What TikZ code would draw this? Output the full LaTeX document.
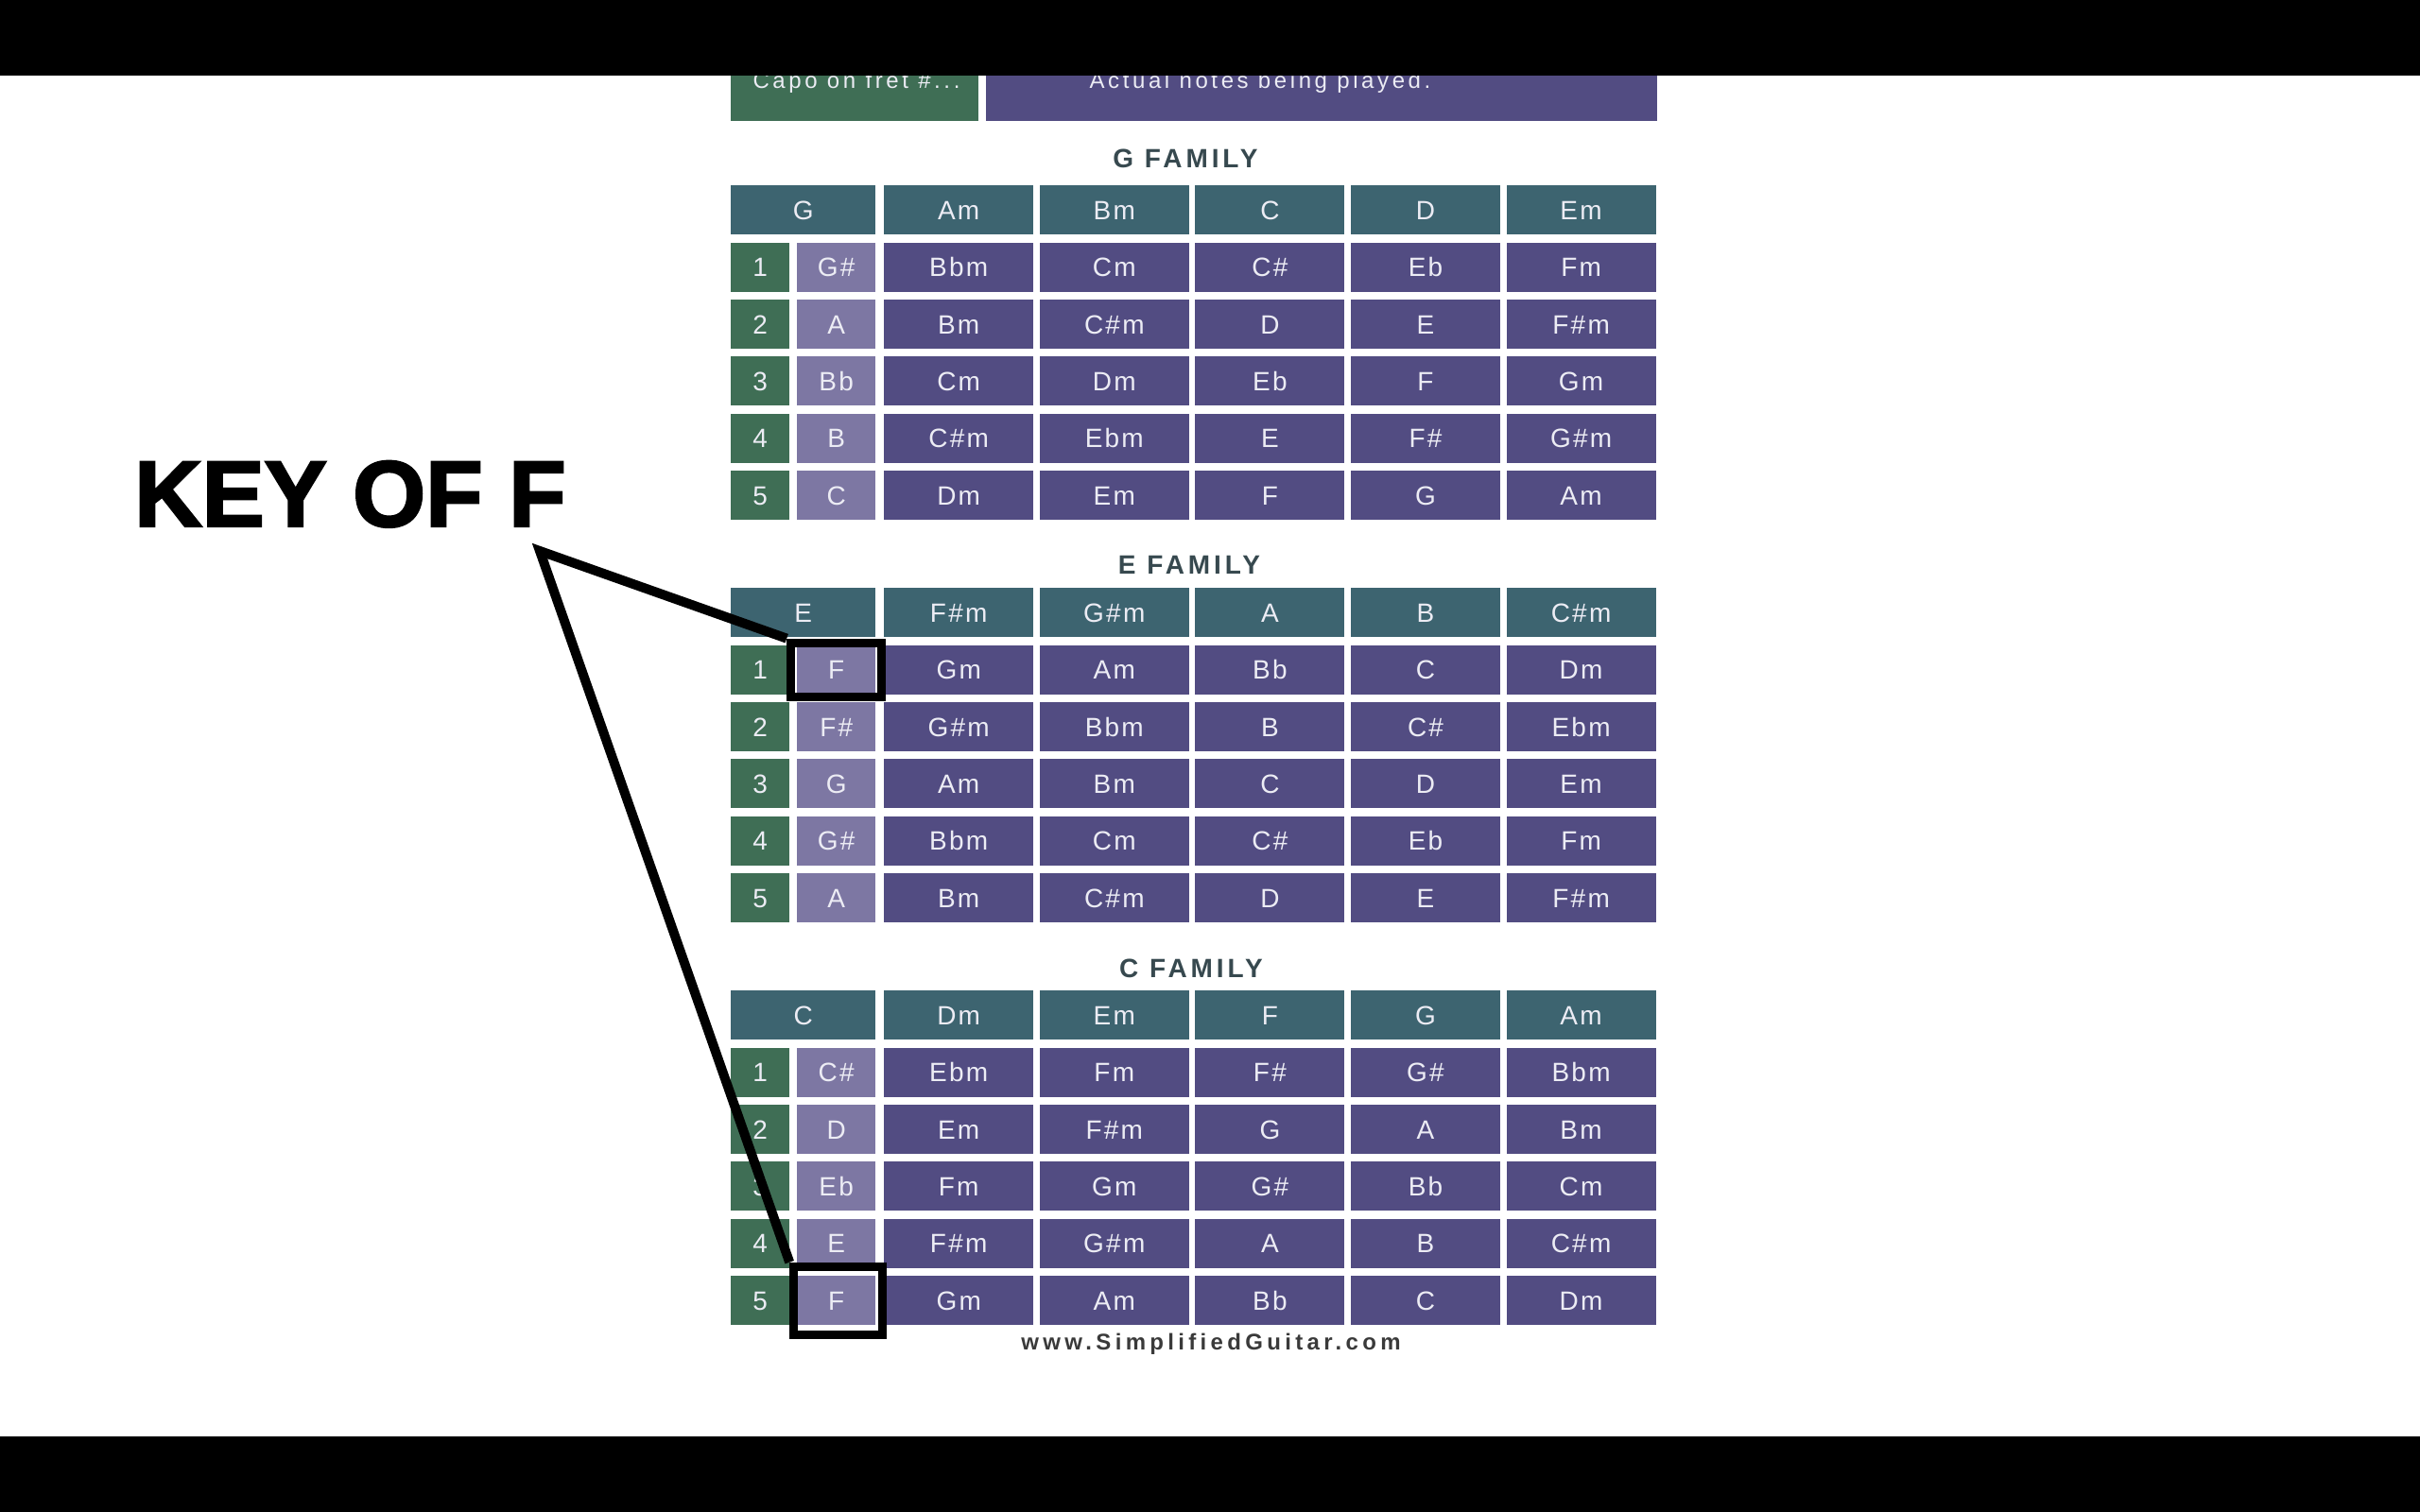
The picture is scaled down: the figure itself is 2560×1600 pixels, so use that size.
\documentclass[tikz,border=0pt]{standalone}
\usepackage{fontspec}
\setmainfont{Liberation Sans}
\usepackage{xcolor}
\usepackage{tikz}
\usetikzlibrary{positioning}

\definecolor{headteal}{HTML}{3D6470}
\definecolor{fretgreen}{HTML}{3F6E55}
\definecolor{notelilac}{HTML}{7D77A3}
\definecolor{chordpurple}{HTML}{524C82}
\definecolor{titlegray}{HTML}{37494F}
\definecolor{celltext}{HTML}{ECECF4}
\definecolor{urlgray}{HTML}{3A3A3A}

\begin{document}
\begin{tikzpicture}[x=1pt, y=-1pt,
  cell/.style={anchor=north west, inner sep=0pt, minimum height=52pt, text=celltext,
    text height=20pt, text depth=0pt,
    font=\fontsize{28}{28}\selectfont\addfontfeature{LetterSpace=8}},
  head/.style={cell, fill=headteal, minimum width=158pt},
  fret/.style={cell, fill=fretgreen, minimum width=62pt},
  note/.style={cell, fill=notelilac, minimum width=83pt},
  chord/.style={cell, fill=chordpurple, minimum width=158pt},
  family/.style={text=titlegray, inner sep=0pt,
    font=\bfseries\fontsize{28}{28}\selectfont\addfontfeature{LetterSpace=14}},
  keybox/.style={draw=black, line width=9pt, inner sep=0pt},
  pointer/.style={draw=black, line width=10pt, line join=miter}]
  \useasboundingbox (0,0) rectangle (2560,1600);
  \fill[white] (0,0) rectangle (2560,1600);

  % legend strip (cut by the top band)
  \fill[fretgreen] (773,60) rectangle (1035,128);
  \fill[chordpurple] (1043,60) rectangle (1753,128);
  \node[anchor=base, text=celltext, font=\fontsize{24}{24}\selectfont\addfontfeature{LetterSpace=15}]
    (capo) at (906,94) {Capo on fret \#...};
  \node[anchor=base, text=celltext, font=\fontsize{24}{24}\selectfont\addfontfeature{LetterSpace=15}]
    (actual) at (1333,94) {Actual notes being played.};

  % black bands
  \fill[black] (0,0) rectangle (2560,80);
  \fill[black] (0,1520) rectangle (2560,1600);

  % G family
  \begin{scope}[shift={(0,196)}]
  \node[family] (g-title) at (1254,-28) {G FAMILY};
  \node[head, minimum width=153pt] (g-h0) at (773,0) {G};
  \foreach \ch [count=\k] in {Am,Bm,C,D,Em}
    \node[head] (g-h\k) at ({935+164.6*(\k-1)},0) {\ch};
  \foreach \fr/\nt/\cA/\cB/\cC/\cD/\cE in {1/G\#/Bbm/Cm/C\#/Eb/Fm, 2/A/Bm/C\#m/D/E/F\#m,
      3/Bb/Cm/Dm/Eb/F/Gm, 4/B/C\#m/Ebm/E/F\#/G\#m, 5/C/Dm/Em/F/G/Am}{
    \node[fret] (g-f\fr) at (773,{60.4*\fr}) {\fr};
    \node[note] (g-n\fr) at (843,{60.4*\fr}) {\nt};
    \foreach \ch [count=\k] in {\cA,\cB,\cC,\cD,\cE}
      \node[chord] (g-c\fr-\k) at ({935+164.6*(\k-1)},{60.4*\fr}) {\ch};
  }
  \end{scope}

  % E family
  \begin{scope}[shift={(0,622)}]
  \node[family] (e-title) at (1258,-24) {E FAMILY};
  \node[head, minimum width=153pt] (e-h0) at (773,0) {E};
  \foreach \ch [count=\k] in {F\#m,G\#m,A,B,C\#m}
    \node[head] (e-h\k) at ({935+164.6*(\k-1)},0) {\ch};
  \foreach \fr/\nt/\cA/\cB/\cC/\cD/\cE in {1/F/Gm/Am/Bb/C/Dm, 2/F\#/G\#m/Bbm/B/C\#/Ebm,
      3/G/Am/Bm/C/D/Em, 4/G\#/Bbm/Cm/C\#/Eb/Fm, 5/A/Bm/C\#m/D/E/F\#m}{
    \node[fret] (e-f\fr) at (773,{60.4*\fr}) {\fr};
    \node[note] (e-n\fr) at (843,{60.4*\fr}) {\nt};
    \foreach \ch [count=\k] in {\cA,\cB,\cC,\cD,\cE}
      \node[chord] (e-c\fr-\k) at ({935+164.6*(\k-1)},{60.4*\fr}) {\ch};
  }
  \end{scope}

  % C family
  \begin{scope}[shift={(0,1048)}]
  \node[family] (c-title) at (1260,-23) {C FAMILY};
  \node[head, minimum width=153pt] (c-h0) at (773,0) {C};
  \foreach \ch [count=\k] in {Dm,Em,F,G,Am}
    \node[head] (c-h\k) at ({935+164.6*(\k-1)},0) {\ch};
  \foreach \fr/\nt/\cA/\cB/\cC/\cD/\cE in {1/C\#/Ebm/Fm/F\#/G\#/Bbm, 2/D/Em/F\#m/G/A/Bm,
      3/Eb/Fm/Gm/G\#/Bb/Cm, 4/E/F\#m/G\#m/A/B/C\#m, 5/F/Gm/Am/Bb/C/Dm}{
    \node[fret] (c-f\fr) at (773,{60.4*\fr}) {\fr};
    \node[note] (c-n\fr) at (843,{60.4*\fr}) {\nt};
    \foreach \ch [count=\k] in {\cA,\cB,\cC,\cD,\cE}
      \node[chord] (c-c\fr-\k) at ({935+164.6*(\k-1)},{60.4*\fr}) {\ch};
  }
  \end{scope}

  \node[anchor=base, text=urlgray, inner sep=0pt,
    font=\bfseries\fontsize{24}{24}\selectfont\addfontfeature{LetterSpace=18}]
    (url) at (1281,1428) {www.SimplifiedGuitar.com};

  % key of F callout
  \node[anchor=base west, inner sep=0pt,
    font=\bfseries\fontsize{99}{99}\selectfont\addfontfeature{FakeBold=2.5}]
    (keyof) at (142,557) {KEY OF F};
  \coordinate (apex) at (571,583);
  \node[keybox, minimum width=96pt, minimum height=57pt] (keyE) at (e-n1.center) {};
  \node[keybox, minimum width=94pt, minimum height=72pt] (keyC) at ([xshift=2pt]c-n5.center) {};
  \draw[pointer] (keyE.north west) -- (apex) -- (keyC.north west);
\end{tikzpicture}
\end{document}
